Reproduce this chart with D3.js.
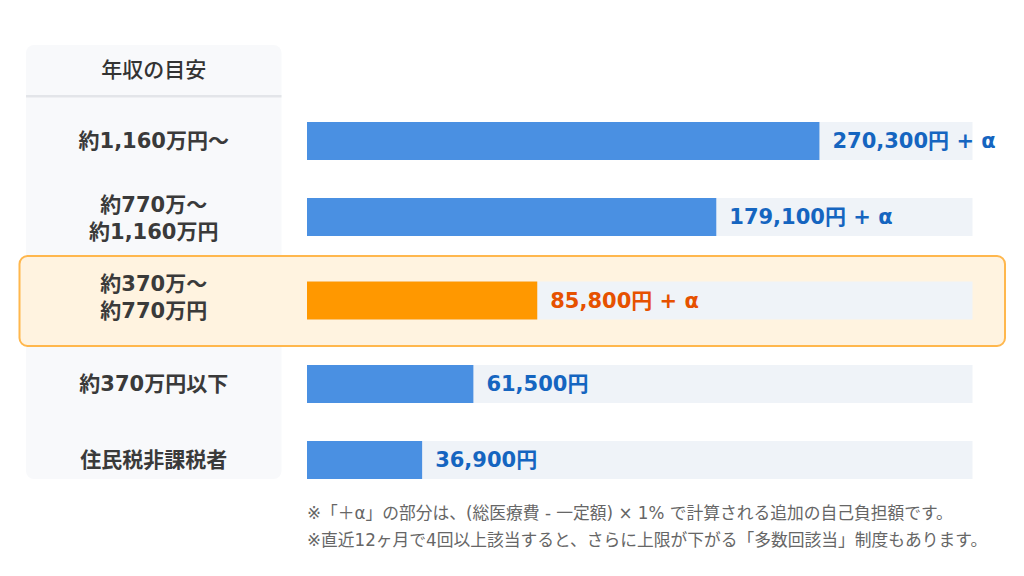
<!DOCTYPE html>
<html>
<head>
<meta charset="utf-8">
<script src="https://cdn.jsdelivr.net/npm/d3@7/dist/d3.min.js"></script>
<style>
  html, body { margin: 0; padding: 0; background: #ffffff; }
  svg { display: block; }
</style>
</head>
<body>
<svg id="chart" width="1024" height="576"></svg>
<script>
// ---- data ----
const headerLabel = "年収の目安";
const incomeLabels = [
  ["約1,160万円〜"],
  ["約770万〜", "約1,160万円"],
  ["約370万〜", "約770万円"],
  ["約370万円以下"],
  ["住民税非課税者"]
];
const limitValues = [270300, 179100, 85800, 61500, 36900];
const plusAlpha = [true, true, true, false, false];
// displayed bar length as a share (%) of the track
const barShare = [77, 61.5, 34.6, 25, 17.3];
const highlightIndex = 2;
const footnotes = [
  "※「＋α」の部分は、(総医療費 - 一定額) × 1% で計算される追加の自己負担額です。",
  "※直近12ヶ月で4回以上該当すると、さらに上限が下がる「多数回該当」制度もあります。"
];

// ---- layout ----
const fontStack = "'DejaVu Sans', 'Noto Sans CJK JP', sans-serif";
const svg = d3.select("#chart");

const trackLeft = 307, trackRight = 972.5;
const x = d3.scaleLinear().domain([0, 100]).range([trackLeft, trackRight]);

const rowsTop = 103, rowH = 76, rowHHi = 91, barH = 38;
const rows = limitValues.map((v, i) => ({
  i, value: v, alpha: plusAlpha[i], share: barShare[i], label: incomeLabels[i],
  h: i === highlightIndex ? rowHHi : rowH
}));
let acc = rowsTop;
rows.forEach(r => { r.top = acc; r.cy = acc + r.h / 2; acc += r.h; });

const panelLeft = 26, panelRight = 281.5, panelTop = 45;
const panelBottom = rows[rows.length - 1].cy + barH / 2;
const panelCx = (panelLeft + panelRight) / 2;

// left panel
svg.append("rect")
  .attr("x", panelLeft).attr("y", panelTop)
  .attr("width", panelRight - panelLeft).attr("height", panelBottom - panelTop)
  .attr("rx", 8).attr("fill", "#f8f9fb");

svg.append("text")
  .attr("x", panelCx).attr("y", 70)
  .attr("text-anchor", "middle").attr("dominant-baseline", "central")
  .attr("font-family", fontStack).attr("font-size", 21).attr("font-weight", 500)
  .attr("fill", "#333").text(headerLabel);

svg.append("rect")
  .attr("x", panelLeft).attr("y", 95)
  .attr("width", panelRight - panelLeft).attr("height", 2.5)
  .attr("fill", "#e3e5e9");

// highlight box
const hr = rows[highlightIndex];
svg.append("rect")
  .attr("x", 19.5).attr("y", hr.top + 1)
  .attr("width", 1005 - 19.5).attr("height", hr.h - 1)
  .attr("rx", 8)
  .attr("fill", "#fff3e0").attr("stroke", "#ffb74d").attr("stroke-width", 2);

// rows
const g = svg.selectAll("g.row").data(rows).join("g").attr("class", "row");

g.append("rect")
  .attr("x", x(0)).attr("y", d => d.cy - barH / 2)
  .attr("width", x(100) - x(0)).attr("height", barH)
  .attr("fill", "#eff3f8");

g.append("rect")
  .attr("x", x(0)).attr("y", d => d.cy - barH / 2)
  .attr("width", d => x(d.share) - x(0)).attr("height", barH)
  .attr("fill", d => d.i === highlightIndex ? "#ff9800" : "#4a90e2");

const fmt = d3.format(",");
g.append("text")
  .attr("x", d => x(d.share) + 13).attr("y", d => d.cy)
  .attr("dominant-baseline", "central")
  .attr("font-family", fontStack).attr("font-size", 21).attr("font-weight", "bold")
  .attr("fill", d => d.i === highlightIndex ? "#e65100" : "#1565c0")
  .text(d => fmt(d.value) + "円" + (d.alpha ? " + α" : ""));

const lineGap = 27;
g.append("text")
  .attr("text-anchor", "middle")
  .attr("font-family", fontStack).attr("font-size", 21).attr("font-weight", "bold")
  .attr("fill", "#3a3a3a")
  .each(function(d) {
    const n = d.label.length;
    const shift = d.i === highlightIndex ? -3 : (n > 1 ? 1.5 : 0);
    d3.select(this).selectAll("tspan").data(d.label).join("tspan")
      .attr("x", panelCx)
      .attr("y", (t, k) => d.cy + shift + (k - (n - 1) / 2) * lineGap)
      .attr("dominant-baseline", "central")
      .text(t => t);
  });

// footnotes
svg.selectAll("text.note").data(footnotes).join("text")
  .attr("class", "note")
  .attr("x", 307).attr("y", (d, i) => 513 + i * 27)
  .attr("dominant-baseline", "central")
  .attr("font-family", fontStack).attr("font-size", 16.75)
  .attr("fill", "#666").text(d => d);
</script>
</body>
</html>
